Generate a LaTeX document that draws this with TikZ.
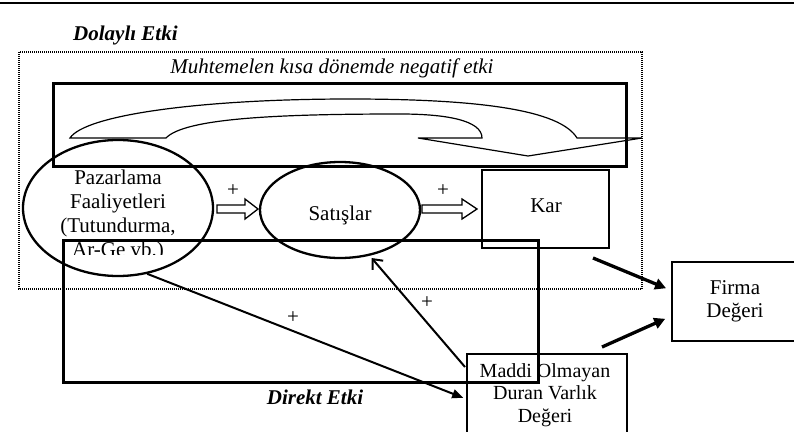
\documentclass[tikz,border=0pt]{standalone}
\usepackage{fontspec}
\setmainfont{Liberation Serif}
\usetikzlibrary{arrows.meta,shapes.geometric}
\tikzset{
 txt/.style={font=\fontsize{21}{24}\selectfont, inner sep=0pt, align=center},
 bitxt/.style={txt, font=\fontsize{21}{24}\selectfont\bfseries\itshape},
 thickbox/.style={draw, line width=3pt, inner sep=0pt},
 oval/.style={draw, ellipse, line width=2.3pt, inner sep=0pt},
 plainbox/.style={draw, line width=2.4pt, inner sep=0pt},
 blockarr/.style={draw, line width=1.3pt, line join=miter},
 bigarr/.style={line width=3.3pt, -{Triangle[length=11pt,width=11pt]}},
 midarr/.style={line width=2pt, -{Triangle[length=11pt,width=9pt]}},
 openarr/.style={line width=2pt, -{Straight Barb[length=8pt,width=14pt]}},
}
\begin{document}
\begin{tikzpicture}[x=1pt,y=-1pt]
\useasboundingbox (0,0) rectangle (794,431);
\clip (0,0) rectangle (794,431);
% top rule
\draw[line width=2pt] (0,3) -- (794,3);
% indirect effect area
\node[bitxt, anchor=base west] (dol) at (73,40) {Dolaylı Etki};
\draw[line width=1.2pt, dash pattern=on 1pt off 1pt] (19,52) rectangle (642,289);
\node[txt, font=\fontsize{21}{24}\selectfont\itshape, anchor=base] (muh) at (332,73) {Muhtemelen kısa dönemde negatif etki};
\node[thickbox, minimum width=573pt, minimum height=83pt] (topbox) at (339.5,124.5) {};
% curved down arrow
\draw[line width=1.2pt, line join=miter]
  (70,138) -- (166,138)
  .. controls (185,118) and (280,114) .. (400,114)
  .. controls (445,114) and (482,120) .. (482,138)
  -- (418,138) -- (528,156) -- (642,138) -- (577,138)
  .. controls (560,110) and (480,99) .. (350,99)
  .. controls (200,99) and (85,115) .. (70,138) -- cycle;
% ellipses
\node[oval, minimum width=190pt, minimum height=136pt] (paz) at (118,208) {};
\begin{scope}
\clip (20,150) rectangle (220,254);
\node[txt, anchor=north] (pazt) at (118,170) {Pazarlama\\Faaliyetleri\\(Tutundurma,\\Ar-Ge vb.)};
\end{scope}
\node[oval, minimum width=160pt, minimum height=96pt] (sat) at (340,210) {};
\node[txt, anchor=base] (satt) at (340,220) {Satışlar};
% block arrows
\coordinate (ba1) at (217,209);
\coordinate (ba2) at (422,209);
\draw[blockarr] (ba1) ++(0,-4) -- ++(28,0) -- ++(0,-6) -- ++(13,10) -- ++(-13,10) -- ++(0,-6) -- ++(-28,0) -- cycle;
\draw[blockarr] (ba2) ++(0,-4) -- ++(40,0) -- ++(0,-6) -- ++(15,10) -- ++(-15,10) -- ++(0,-6) -- ++(-40,0) -- cycle;
\node[txt] (p1) at (233,191) {+};
\node[txt] (p2) at (443,191) {+};
% Kar
\node[plainbox, minimum width=127pt, minimum height=78pt] (kar) at (545.5,209) {};
\node[txt, anchor=base] (kart) at (546,212) {Kar};
% direct effect box
\node[thickbox, minimum width=475pt, minimum height=142pt] (botbox) at (300.5,311) {};
\node[bitxt, anchor=base] (dir) at (315,404) {Direkt Etki};
% Firma
\node[plainbox, line width=2.6pt, minimum width=126pt, minimum height=79pt] (firma) at (735,301.5) {};
\node[txt, font=\fontsize{21}{23}\selectfont, anchor=north] (firmat) at (735,280.7) {Firma\\Değeri};
% Maddi
\node[plainbox, line width=1.8pt, minimum width=160pt, minimum height=90pt, anchor=north west] (maddi) at (466,353) {};
\node[txt, font=\fontsize{20}{22.5}\selectfont, anchor=north] (maddit) at (545,363.3) {Maddi Olmayan\\Duran Varlık\\Değeri};
% connectors
\coordinate (k1) at (593,258);
\coordinate (m2) at (602,347);
\coordinate (m1) at (465,367);
\draw[bigarr, shorten >=5pt] (k1) -- (firma.170);
\draw[bigarr, shorten >=6pt] (m2) -- (firma.193);
\draw[midarr, shorten >=3pt] (paz.-66) -- (maddi.west);
\draw[openarr, shorten >=3pt] (m1) -- (sat.-57);
\node[txt] (p3) at (293,318) {+};
\node[txt] (p4) at (427,303) {+};
\end{tikzpicture}
\end{document}
